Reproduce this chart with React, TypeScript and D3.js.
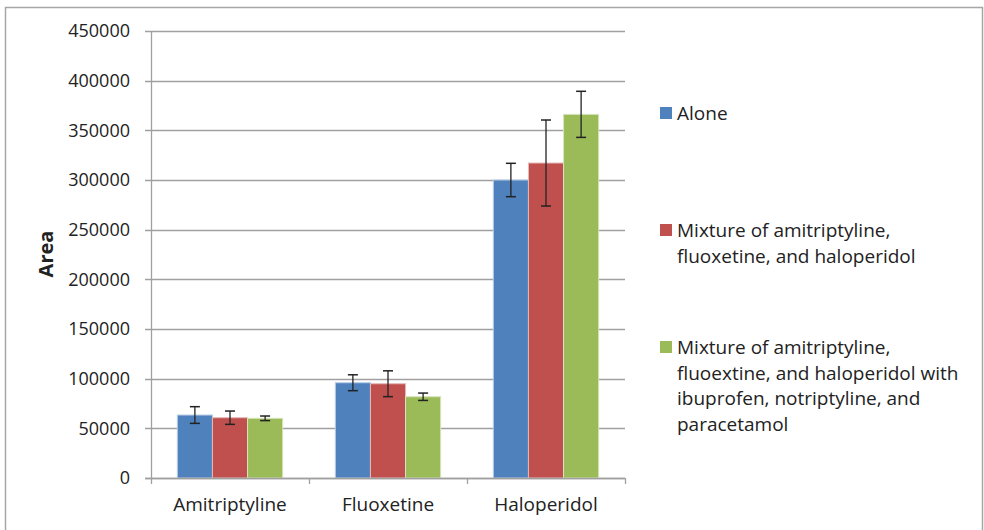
import { useEffect, useRef } from 'react';
import * as d3 from 'd3';

const categories = ['Amitriptyline', 'Fluoxetine', 'Haloperidol'];
const seriesNames = [
  'Alone',
  'Mixture of amitriptyline, fluoxetine, and haloperidol',
  'Mixture of amitriptyline, fluoextine, and haloperidol with ibuprofen, notriptyline, and paracetamol',
];
const legendLines = [
  ['Alone'],
  ['Mixture of amitriptyline,', 'fluoxetine, and haloperidol'],
  ['Mixture of amitriptyline,', 'fluoextine, and haloperidol with', 'ibuprofen, notriptyline, and', 'paracetamol'],
];
const aloneValues = [63400, 95900, 300000];
const mix1Values = [60700, 94900, 317100];
const mix2Values = [60100, 81800, 366100];
const aloneErr = [8400, 8000, 16800];
const mix1Err = [6700, 13000, 43300];
const mix2Err = [2300, 3700, 23200];
const yTicks = [0, 50000, 100000, 150000, 200000, 250000, 300000, 350000, 400000, 450000];
const colors = ['#4F81BD', '#C0504D', '#9BBB59'];
const borders = ['#b9cde5', '#e6b9b8', '#d7e4bd'];

const FONT = '"Open Sans", sans-serif';

const App = () => {
  const svgRef = useRef<SVGSVGElement>(null);

  useEffect(() => {
    if (!svgRef.current) return;
    const svg = d3.select(svgRef.current);
    svg.selectAll('*').remove();

    const values = [aloneValues, mix1Values, mix2Values];
    const errs = [aloneErr, mix1Err, mix2Err];

    const left = 151, right = 625, top = 31, bottom = 478;

    // outer frame
    svg.append('rect')
      .attr('x', 5.5).attr('y', 7.5)
      .attr('width', 977).attr('height', 540)
      .attr('fill', '#fff')
      .attr('stroke', '#a6a6a6')
      .attr('stroke-width', 1.5);

    const y = d3.scaleLinear().domain([0, 450000]).range([bottom, top]);
    const x0 = d3.scaleBand().domain(categories).range([left, right]).paddingInner(0).paddingOuter(0);
    const bw = x0.bandwidth() / 4.5;

    // gridlines
    svg.append('g').selectAll('line').data(yTicks).join('line')
      .attr('x1', left - 6).attr('x2', right)
      .attr('y1', d => Math.round(y(d)) + 0.5).attr('y2', d => Math.round(y(d)) + 0.5)
      .attr('stroke', '#a0a0a0').attr('stroke-width', 1.3);

    // y axis line
    svg.append('line')
      .attr('x1', left + 0.5).attr('x2', left + 0.5)
      .attr('y1', top).attr('y2', bottom)
      .attr('stroke', '#a0a0a0').attr('stroke-width', 1.3);

    // y tick labels
    svg.append('g').selectAll('text').data(yTicks).join('text')
      .attr('x', 130).attr('y', d => y(d))
      .attr('dy', '0.36em')
      .attr('text-anchor', 'end')
      .attr('font-family', FONT).attr('font-size', 18)
      .attr('fill', '#222')
      .text(d => String(d));

    // y title
    svg.append('text')
      .attr('transform', 'translate(53,254) rotate(-90)')
      .attr('text-anchor', 'middle')
      .attr('font-family', FONT).attr('font-size', 20).attr('font-weight', 'bold')
      .attr('fill', '#222')
      .text('Area');

    // bars
    const barG = svg.append('g');
    seriesNames.forEach((_, s) => {
      categories.forEach((c, i) => {
        const bx = (x0(c) as number) + bw * 0.75 + s * bw;
        const v = values[s][i];
        barG.append('rect')
          .attr('x', bx).attr('y', y(v))
          .attr('width', bw).attr('height', bottom - y(v))
          .attr('fill', colors[s])
          .attr('stroke', borders[s]).attr('stroke-width', 1);
      });
    });

    // x axis line + ticks
    svg.append('line')
      .attr('x1', left - 6).attr('x2', right)
      .attr('y1', bottom + 0.5).attr('y2', bottom + 0.5)
      .attr('stroke', '#a0a0a0').attr('stroke-width', 1.3);
    const tickXs = [left, ...categories.map(c => (x0(c) as number) + x0.bandwidth())];
    svg.append('g').selectAll('line').data(tickXs).join('line')
      .attr('x1', d => d + 0.5).attr('x2', d => d + 0.5)
      .attr('y1', bottom).attr('y2', bottom + 6)
      .attr('stroke', '#a0a0a0').attr('stroke-width', 1.3);

    // error bars
    const errG = svg.append('g');
    seriesNames.forEach((_, s) => {
      categories.forEach((c, i) => {
        const cx = (x0(c) as number) + bw * 0.75 + s * bw + bw / 2;
        const v = values[s][i], e = errs[s][i];
        const yt = y(v + e), yb = y(v - e);
        errG.append('line').attr('x1', cx).attr('x2', cx).attr('y1', yt).attr('y2', yb)
          .attr('stroke', '#222').attr('stroke-width', 1.3);
        [yt, yb].forEach(yy => {
          errG.append('line').attr('x1', cx - 5).attr('x2', cx + 5).attr('y1', yy).attr('y2', yy)
            .attr('stroke', '#222').attr('stroke-width', 1.5);
        });
      });
    });

    // category labels
    svg.append('g').selectAll('text').data(categories).join('text')
      .attr('x', d => (x0(d) as number) + x0.bandwidth() / 2)
      .attr('y', 511)
      .attr('text-anchor', 'middle')
      .attr('font-family', FONT).attr('font-size', 19)
      .attr('fill', '#222')
      .text(d => d);

    // legend
    const legendTops = [113, 230, 347];
    const lg = svg.append('g');
    legendLines.forEach((lines, s) => {
      lg.append('rect')
        .attr('x', 660).attr('y', legendTops[s] - 6)
        .attr('width', 12).attr('height', 12)
        .attr('fill', colors[s]);
      lines.forEach((ln, j) => {
        lg.append('text')
          .attr('x', 677).attr('y', legendTops[s] + j * 25.8)
          .attr('dy', '0.36em')
          .attr('font-family', FONT).attr('font-size', 19)
          .attr('fill', '#222')
          .text(ln);
      });
    });
  }, []);

  return (
    <svg ref={svgRef} width={984} height={530}
      style={{ position: 'absolute', left: 0, top: 0, background: '#fff' }} />
  );
};

export default App;
